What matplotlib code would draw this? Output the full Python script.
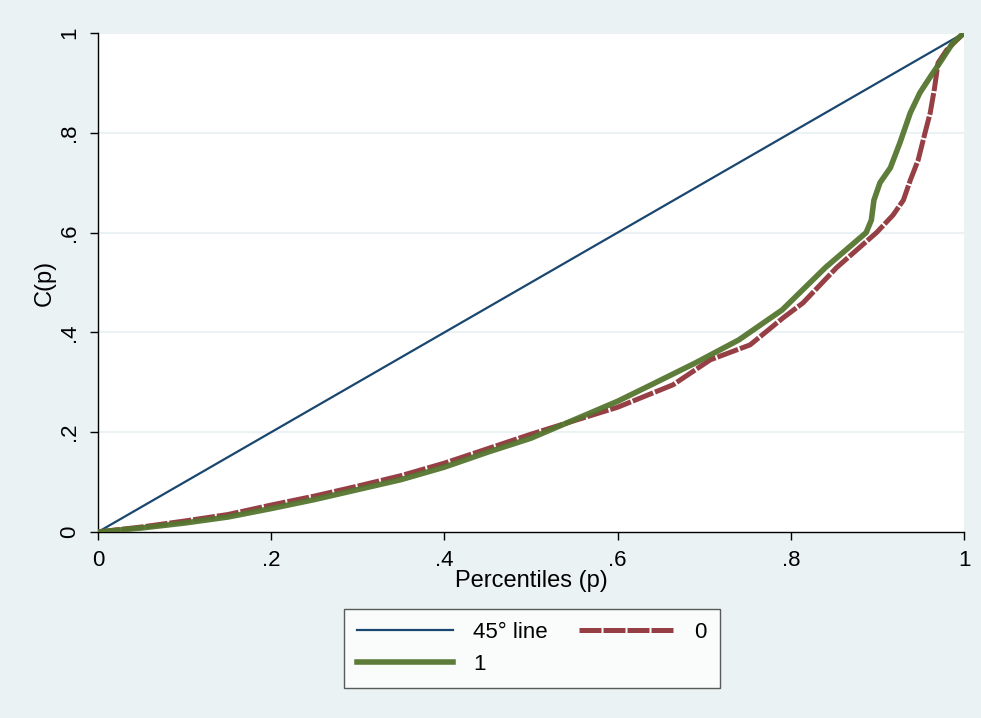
import matplotlib.pyplot as plt

plt.rcParams['font.family'] = ['Liberation Sans', 'DejaVu Sans']

# 45 degree line
line_p = [0, 1]

# group 0 (red dashed)
p0 = [0, 0.05, 0.1, 0.15, 0.2, 0.25, 0.3, 0.35, 0.4, 0.45, 0.5, 0.522, 0.6, 0.664,
      0.707, 0.753, 0.791, 0.814, 0.853, 0.899, 0.918, 0.93, 0.938, 0.947, 0.955,
      0.961, 0.966, 0.97, 0.98, 1]
c0 = [0, 0.01, 0.022, 0.035, 0.054, 0.072, 0.092, 0.113, 0.138, 0.167, 0.196, 0.208,
      0.25, 0.295, 0.345, 0.375, 0.429, 0.459, 0.53, 0.6, 0.635, 0.665, 0.705, 0.745,
      0.80, 0.84, 0.89, 0.94, 0.966, 1]

# group 1 (green)
p1 = [0, 0.05, 0.1, 0.15, 0.2, 0.25, 0.3, 0.35, 0.4, 0.45, 0.5, 0.55, 0.6, 0.64,
      0.69, 0.74, 0.79, 0.84, 0.887, 0.893, 0.896, 0.903, 0.915, 0.926, 0.938, 0.949,
      0.961, 0.972, 0.987, 1]
c1 = [0, 0.008, 0.018, 0.03, 0.047, 0.065, 0.085, 0.105, 0.13, 0.16, 0.188, 0.225,
      0.262, 0.296, 0.339, 0.385, 0.445, 0.53, 0.6, 0.625, 0.665, 0.70, 0.73, 0.78,
      0.84, 0.88, 0.912, 0.94, 0.98, 1]

ticks = [0, 0.2, 0.4, 0.6, 0.8, 1]
tick_labels = ["0", ".2", ".4", ".6", ".8", "1"]

bg = "#EAF2F3"
fig = plt.figure(figsize=(9.81, 7.18), dpi=100, facecolor=bg)
ax = fig.add_axes([98/981, 1 - 532/718, 866/981, 499/718])
ax.set_facecolor("white")

for y in ticks[1:]:
    ax.axhline(y, color=bg, lw=1.5, zorder=0)

ax.plot(line_p, line_p, color="#1A476F", lw=1.6, label="45° line", zorder=3)
ax.plot(p1, c1, color="#55752F", lw=4, label="1", zorder=4, alpha=0.95)
ax.plot(p0, c0, color="#90353B", lw=3.6, label="0", zorder=3,
        dashes=(4.4, 0.4), dash_capstyle="butt", alpha=0.95)

ax.set_xlim(0, 1)
ax.set_ylim(0, 1)
ax.set_xticks(ticks)
ax.set_xticklabels(tick_labels)
ax.set_yticks(ticks)
ax.set_yticklabels(tick_labels, rotation=90, va="center")
ax.tick_params(length=6, width=1, color="black", labelsize=16, pad=7)
for s in ["top", "right"]:
    ax.spines[s].set_visible(False)
for s in ["left", "bottom"]:
    ax.spines[s].set_color("black")
    ax.spines[s].set_linewidth(1)
ax.set_xlabel("Percentiles (p)", fontsize=17, labelpad=-1)
ax.set_ylabel("C(p)", fontsize=17, labelpad=2)

h, l = ax.get_legend_handles_labels()
leg = fig.legend(h, l, ncol=2,
                 loc="center", bbox_to_anchor=(532/981, 1 - 648.5/718),
                 fontsize=16, handlelength=4.3, columnspacing=1.4, handletextpad=0.9,
                 frameon=True, fancybox=False, edgecolor="#333333",
                 borderpad=0.6, labelspacing=0.5)
leg.get_frame().set_linewidth(1)

fig.savefig("out.png", dpi=100, facecolor=bg)
